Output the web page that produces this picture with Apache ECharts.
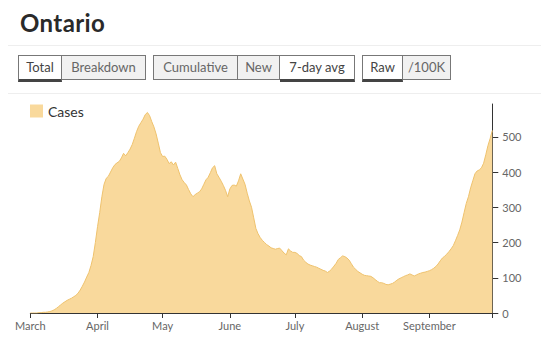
<!DOCTYPE html>
<html>
<head>
<meta charset="utf-8">
<script src="https://cdn.jsdelivr.net/npm/echarts@6/dist/echarts.min.js"></script>
<style>
  html,body{margin:0;padding:0;background:#fff;width:549px;height:359px;overflow:hidden;font-family:Lato,"Noto Sans",sans-serif;}
  #chart{position:absolute;left:0;top:0;width:549px;height:359px;}
  #title{position:absolute;left:20px;top:8px;font-size:24px;font-weight:bold;color:#2a2a2a;letter-spacing:0.4px;z-index:2;}
  .hr{position:absolute;left:8px;width:533px;height:1px;background:#eee;z-index:2;}
  .grp{position:absolute;top:55px;display:flex;z-index:2;}
  .btn{box-sizing:border-box;height:25px;border:1px solid #777;border-left:none;background:#f1f1f1;color:#666;font-size:13px;line-height:23px;text-align:center;white-space:nowrap;}
  .btn:first-child{border-left:1px solid #777;}
  .btn.sel{background:#fff;color:#444;height:27px;border-bottom:3px solid #444;}
</style>
</head>
<body>
<div id="chart"></div>
<div id="title">Ontario</div>
<div class="hr" style="top:45px"></div>
<div class="hr" style="top:93px"></div>
<div class="grp" style="left:18px">
  <div class="btn sel" style="width:44px">Total</div>
  <div class="btn" style="width:84px">Breakdown</div>
</div>
<div class="grp" style="left:153px">
  <div class="btn" style="width:85px">Cumulative</div>
  <div class="btn" style="width:42px">New</div>
  <div class="btn sel" style="width:75px">7-day avg</div>
</div>
<div class="grp" style="left:362px">
  <div class="btn sel" style="width:41px">Raw</div>
  <div class="btn" style="width:48px">/100K</div>
</div>
<script>
// 7-day average of new cases, Ontario, daily from 2020-03-01 to 2020-09-30
const startDate = '2020-03-01';
const cases = [
  0,0,0,0,1,1,2,2,3,4,
  6,9,13,18,23,28,32,36,39,42,
  46,50,56,65,76,88,102,115,135,160,
  200,245,285,330,365,382,388,400,412,421,
  426,430,440,453,446,455,465,478,496,515,
  530,540,550,563,569,560,543,528,508,482,
  455,444,445,436,424,429,420,428,410,392,
  378,370,363,350,338,330,336,340,344,352,
  365,378,385,398,412,418,395,385,374,362,
  348,330,352,362,363,360,375,395,380,365,
  340,318,300,270,240,225,214,206,200,194,
  190,185,183,181,183,184,177,170,165,182,
  176,172,172,169,163,160,150,144,139,136,
  134,132,130,127,124,121,119,115,119,125,
  133,141,152,157,162,160,156,150,140,130,
  124,118,114,110,107,106,105,104,100,95,
  90,86,86,84,81,80,82,84,88,93,
  97,100,103,106,108,111,108,105,108,111,
  113,115,116,118,120,123,127,132,139,148,
  156,161,167,174,182,191,205,220,236,258,
  285,311,330,355,375,395,403,406,412,425,
  449,475,495,518
];
const monthNames = ['January','February','March','April','May','June','July','August','September','October','November','December'];
const yTicks = [0,100,200,300,400,500];
const seriesName = 'Cases';

function pad(n){return (n<10?'0':'')+n;}
const dates = [];
(function(){
  const d0 = new Date(startDate + 'T00:00:00Z');
  for (let i = 0; i < cases.length; i++) {
    const d = new Date(d0.getTime() + i*86400000);
    dates.push(d.getUTCFullYear() + '-' + pad(d.getUTCMonth()+1) + '-' + pad(d.getUTCDate()));
  }
})();
const lastIdx = dates.length - 1;

const chart = echarts.init(document.getElementById('chart'), null, {renderer:'svg'});
chart.setOption({
  animation:false,
  textStyle:{fontFamily:'Lato, "Noto Sans", sans-serif'},
  legend:{
    show:true, left:30, top:104, padding:0, itemWidth:13, itemHeight:13, itemGap:8,
    icon:'rect',
    textStyle:{fontSize:14, color:'#333'},
    data:[{name:seriesName, itemStyle:{color:'#f9d99c'}}]
  },
  grid:{left:30.3, right:56.7, top:104, bottom:46, containLabel:false},
  xAxis:{
    type:'category', data:dates, boundaryGap:false,
    axisLine:{show:true, lineStyle:{color:'#333', width:1}},
    axisTick:{show:true, length:5, lineStyle:{color:'#333'},
      interval:function(i,v){return v.slice(8)==='01' || i===lastIdx;}},
    axisLabel:{show:true, color:'#666', fontSize:11, margin:7,
      interval:function(i,v){return v.slice(8)==='01';},
      formatter:function(v){return monthNames[parseInt(v.slice(5,7),10)-1];}},
    splitLine:{show:false}
  },
  yAxis:{
    type:'value', position:'right', min:0, max:593, interval:100,
    axisLine:{show:true, lineStyle:{color:'#333', width:1}},
    axisTick:{show:true, length:6, lineStyle:{color:'#333'}},
    axisLabel:{show:true, color:'#666', fontSize:11, margin:10, showMaxLabel:false,
      formatter:function(v){return yTicks.indexOf(v)>=0 ? String(v) : '';}},
    splitLine:{show:false}
  },
  series:[{
    name:seriesName, type:'line', data:cases, showSymbol:false, symbol:'none',
    lineStyle:{color:'#eec26e', width:1},
    itemStyle:{color:'#f9d99c'},
    areaStyle:{color:'#f9d99c', opacity:1}
  }]
});
</script>
</body>
</html>
